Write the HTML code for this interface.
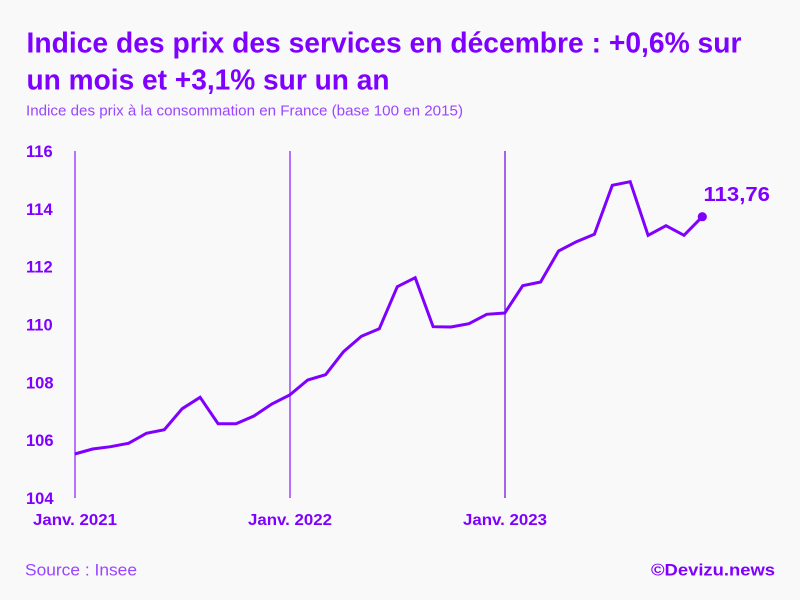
<!DOCTYPE html>
<html><head><meta charset="utf-8"><style>
html,body{margin:0;padding:0;background:#f9f9f9;}
svg{display:block;}
</style></head><body>
<svg width="800" height="600" viewBox="0 0 800 600" xmlns="http://www.w3.org/2000/svg">
<rect width="800" height="600" fill="#f9f9f9"/>
<g font-family="'Liberation Sans', sans-serif">
<text x="26.5" y="52.5" font-size="29" font-weight="bold" fill="#7f00ff" textLength="715" lengthAdjust="spacingAndGlyphs">Indice des prix des services en décembre : +0,6% sur</text>
<text x="26.5" y="89.5" font-size="29" font-weight="bold" fill="#7f00ff" textLength="363" lengthAdjust="spacingAndGlyphs">un mois et +3,1% sur un an</text>
<text x="26" y="115.7" font-size="14.5" fill="#9a45ff" textLength="437" lengthAdjust="spacingAndGlyphs">Indice des prix à la consommation en France (base 100 en 2015)</text>

<g font-size="16.5" font-weight="bold" fill="#7f00ff">
<text x="26" y="157">116</text>
<text x="26" y="214.8">114</text>
<text x="26" y="272.7">112</text>
<text x="26" y="330.5">110</text>
<text x="26" y="388.3">108</text>
<text x="26" y="446.2">106</text>
<text x="26" y="504">104</text>
</g>

<line x1="75" y1="151" x2="75" y2="498" stroke="#8a1cff" stroke-width="1.2"/>
<line x1="290" y1="151" x2="290" y2="498" stroke="#b86eff" stroke-width="2"/>
<line x1="505" y1="151" x2="505" y2="498" stroke="#6a00d8" stroke-width="1.2"/>

<g font-size="16" font-weight="bold" fill="#7f00ff" text-anchor="middle">
<text x="75" y="525" textLength="84" lengthAdjust="spacingAndGlyphs">Janv. 2021</text>
<text x="290" y="525" textLength="84" lengthAdjust="spacingAndGlyphs">Janv. 2022</text>
<text x="505" y="525" textLength="84" lengthAdjust="spacingAndGlyphs">Janv. 2023</text>
</g>

<polyline fill="none" stroke="#7f00ff" stroke-width="3" stroke-linejoin="miter" stroke-linecap="butt" points="74.7,454 92.6,449 110.5,446.7 128.5,443.3 146.4,433.3 164.3,429.7 182.2,408.7 200.1,397.3 218.1,423.7 236,423.7 253.9,416 271.8,404 289.7,395 307.7,380 325.6,374.7 343.5,351.7 361.4,336.3 379.3,328.7 397.3,286.7 415.2,277.7 433.1,326.7 451,327 468.9,323.7 486.8,314.3 504.8,313 522.7,285.7 540.6,282 558.5,251 576.4,241.7 594.4,234.3 612.3,185.3 630.2,181.7 648.1,235.3 666,225.7 684,235.3 702.3,216.7"/>
<circle cx="702.3" cy="216.7" r="4.6" fill="#7f00ff"/>
<text x="703.5" y="201" font-size="20.5" font-weight="bold" fill="#7f00ff" textLength="66.5" lengthAdjust="spacingAndGlyphs">113,76</text>

<text x="25" y="575.5" font-size="17" fill="#9a45ff" textLength="112" lengthAdjust="spacingAndGlyphs">Source : Insee</text>
<text x="651" y="575.5" font-size="17" font-weight="bold" fill="#7f00ff" textLength="124" lengthAdjust="spacingAndGlyphs">©Devizu.news</text>
</g>
</svg>
</body></html>
